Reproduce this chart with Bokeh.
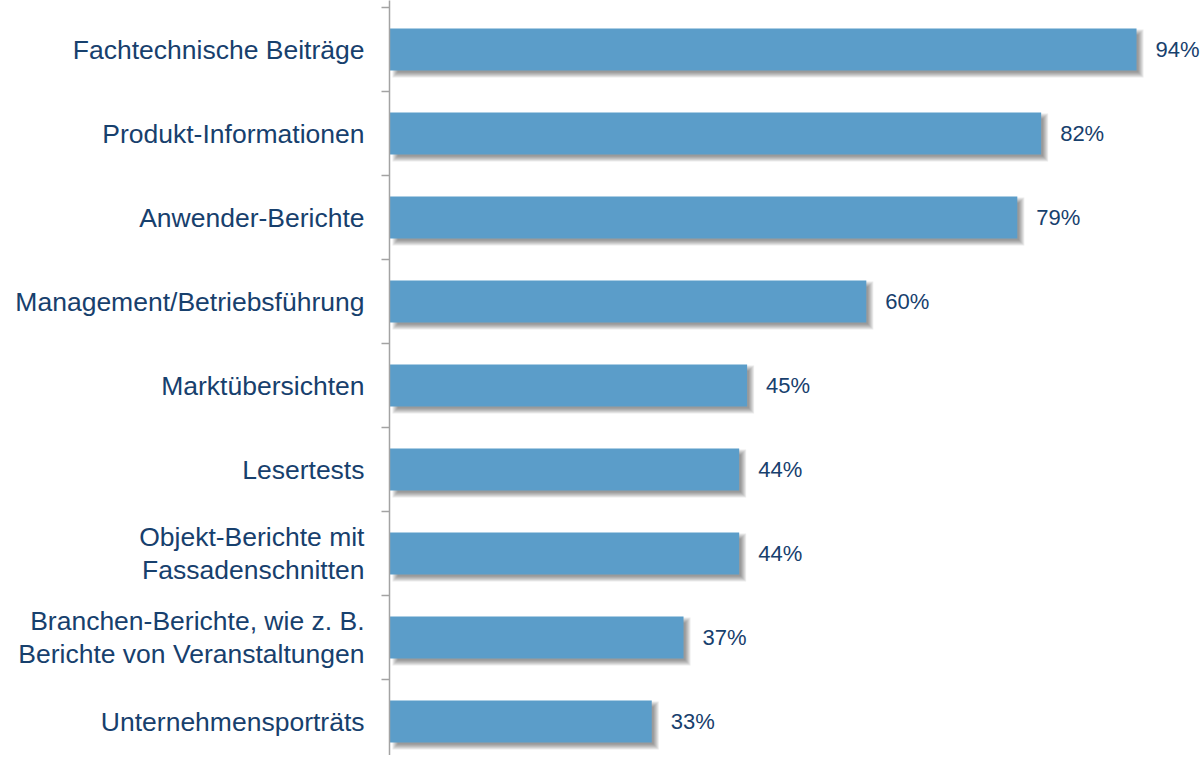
from bokeh.plotting import figure
from bokeh.models import Range1d, LinearAxis, FixedTicker, ColumnDataSource
from bokeh.core.properties import value
from bokeh.embed import file_html
from bokeh.resources import INLINE

categories = [
    "Fachtechnische Beiträge",
    "Produkt-Informationen",
    "Anwender-Berichte",
    "Management/Betriebsführung",
    "Marktübersichten",
    "Lesertests",
    "Objekt-Berichte mit\nFassadenschnitten",
    "Branchen-Berichte, wie z. B.\nBerichte von Veranstaltungen",
    "Unternehmensporträts",
]
values = [94, 82, 79, 60, 45, 44, 44, 37, 33]
value_labels = ["94%", "82%", "79%", "60%", "45%", "44%", "44%", "37%", "33%"]

BAR = "#5B9DC9"
NAVY = "#17406D"
GREY = "#A3A3A3"
FONT = "Liberation Sans"

W, H = 1200, 755
LEFT = 389
frame_w = W - LEFT
px_per_pct = 7.947
px_per_cat = 84.0
x_end = frame_w / px_per_pct
y_top = -0.5 - 7 / px_per_cat
y_bottom = y_top + H / px_per_cat

pos = list(range(len(categories)))
src = ColumnDataSource(dict(y=pos, v=values, lab=value_labels))

p = figure(width=W, height=H, output_backend="svg", toolbar_location=None,
           x_range=Range1d(0, x_end), y_range=Range1d(y_bottom, y_top),
           x_axis_type=None, y_axis_type=None,
           min_border_left=LEFT, min_border_right=0, min_border_top=0, min_border_bottom=0)
p.outline_line_color = None
p.xgrid.visible = False
p.ygrid.visible = False
p.background_fill_color = "white"

# soft drop shadow (layers offset down-right)
dx, dy = 4.0, 4.0
for r in [-2, -1, 0, 1, 2, 3]:
    p.hbar(y=[y + dy / px_per_cat for y in pos],
           left=[(dx + 2 - r) / px_per_pct for _ in values],
           right=[v + (dx + r) / px_per_pct for v in values],
           height=0.5 + 2 * r / px_per_cat,
           fill_color="black", fill_alpha=0.08, line_color=None)

p.hbar(y="y", left=0, right="v", height=0.5, source=src,
       fill_color=BAR, line_color=None)

p.text(x="v", y="y", text="lab", source=src, x_offset=19,
       text_font=value(FONT), text_font_size="22px", text_color=NAVY,
       text_baseline="middle", text_align="left")

ax = LinearAxis(ticker=FixedTicker(ticks=pos, minor_ticks=[i - 0.5 for i in range(len(pos) + 1)]))
ax.major_label_overrides = {i: c for i, c in enumerate(categories)}
ax.major_tick_out = 0
ax.major_tick_in = 0
ax.minor_tick_out = 8
ax.minor_tick_in = 0
ax.minor_tick_line_color = GREY
ax.minor_tick_line_width = 1.5
ax.axis_line_color = GREY
ax.axis_line_width = 1.5
ax.major_label_standoff = 17
ax.major_label_text_font = FONT
ax.major_label_text_font_size = "26.5px"
ax.major_label_text_color = NAVY
ax.major_label_text_line_height = 1.1
p.add_layout(ax, "left")

open("out.html", "w").write(file_html(p, INLINE))
